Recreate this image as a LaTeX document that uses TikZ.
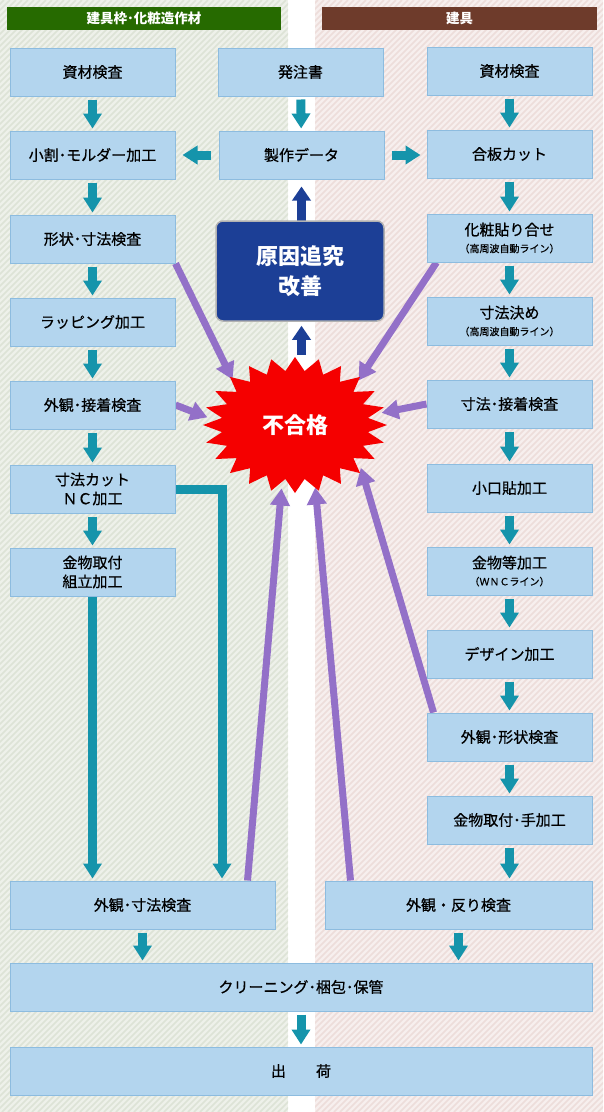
\documentclass[tikz,border=0pt]{standalone}
\usepackage{fontspec}
\setmainfont{Noto Sans CJK JP}
\newfontfamily\boxfont{Noto Sans CJK JP}[FakeBold=0.7]
\usetikzlibrary{arrows.meta,shapes.geometric}
\pgfdeclarelayer{stripes}
\pgfdeclarelayer{background}
\pgfsetlayers{stripes,background,main}
\definecolor{boxblue}{HTML}{B3D5EE}
\definecolor{boxline}{HTML}{8DBCDF}
\definecolor{flowteal}{HTML}{1594AB}
\definecolor{causeblue}{HTML}{1C3F96}
\definecolor{ngpurple}{HTML}{9370C8}
\definecolor{leftgreen}{HTML}{266A00}
\definecolor{rightbrown}{HTML}{6E3B2B}
\definecolor{leftbg}{HTML}{EEF1EA}
\definecolor{leftstripe}{HTML}{DDE3D6}
\definecolor{rightbg}{HTML}{F7EFEE}
\definecolor{rightstripe}{HTML}{EDDDDA}
\definecolor{burstred}{HTML}{F50000}
\newcommand\subl{\fontsize{10}{12}\selectfont}
\tikzstyle{stepbox}=[draw=boxline,fill=boxblue,line width=1pt,minimum width=165pt,minimum height=48pt,inner sep=0pt,align=center,font=\boxfont\fontsize{15}{19}\selectfont]
\tikzstyle{header} = [text=white,minimum height=23pt,inner sep=0pt,font=\bfseries\fontsize{13.5}{15}\selectfont]
\tikzstyle{cause box} = [draw=gray!60,fill=causeblue,line width=1.5pt,rounded corners=7pt,minimum width=168pt,minimum height=100pt,align=center,text=white,font=\bfseries\fontsize{22}{30}\selectfont]
\tikzstyle{burst} = [ellipse,minimum width=176pt,minimum height=128pt,inner sep=0pt,text=white,font=\bfseries\fontsize{22}{24}\selectfont]
\tikzstyle{flow} = [draw=flowteal,line width=9pt,-{Triangle[width=18pt,length=15pt]}]
\tikzstyle{back} = [draw=causeblue,line width=9pt,-{Triangle[width=18pt,length=14pt]}]
\tikzstyle{reject} = [draw=ngpurple,line width=7pt,-{Triangle[width=19pt,length=17pt]}]

\begin{document}
\begin{tikzpicture}[x=1pt,y=-1pt]
	\useasboundingbox (0,0) rectangle (603,1112);
	% Striped panels behind the two columns
	\begin{pgfonlayer}{stripes}
		\fill[leftbg] (0,0) rectangle (288,1112);
		\fill[rightbg] (315,0) rectangle (603,1112);
		\begin{scope}
			\clip (0,0) rectangle (288,1112);
			\foreach \i in {-1120,-1114,...,290}
			\draw[leftstripe,line width=1.6pt] (\i,1112) -- ++(1112,-1112);
		\end{scope}
		\begin{scope}
			\clip (315,0) rectangle (603,1112);
			\foreach \i in {-800,-794,...,606}
			\draw[rightstripe,line width=1.6pt] (\i,1112) -- ++(1112,-1112);
		\end{scope}
	\end{pgfonlayer}

	\node[header,fill=leftgreen,minimum width=274pt] (hl) at (144,18.5) {建具枠･化粧造作材};
	\node[header,fill=rightbrown,minimum width=275pt] (hr) at (459.5,18.5) {建具};

	% The red burst first, so the boxes sit on top
	\fill[burstred] (387,425) \foreach \k in {1,...,47} {-- ({295+92*(1-0.2*mod(\k,2))*cos(\k*7.5)},{425+68*(1-0.2*mod(\k,2))*sin(\k*7.5)})} -- cycle;
	\node[burst] (ng) at (295,425) {不合格};

	% Left column
	\foreach \pos/\name/\text in {{(92.5,72)/l1/資材検査}, {(92.5,155)/l2/小割･モルダー加工}, {(92.5,239)/l3/形状･寸法検査}, {(92.5,322)/l4/ラッピング加工}, {(92.5,405)/l5/外観･接着検査}, {(92.5,489)/l6/寸法カット\\ＮＣ加工}, {(92.5,572)/l7/金物取付\\組立加工}}
	\node[stepbox] (\name) at \pos {\text};

	% Right column
	\foreach \pos/\name/\text in {{(509.5,71)/r1/資材検査}, {(509.5,154)/r2/合板カット}, {(509.5,238)/r3/化粧貼り合せ\\[-2pt]{\subl （高周波自動ライン）}}, {(509.5,321)/r4/寸法決め\\[-2pt]{\subl （高周波自動ライン）}}, {(509.5,404)/r5/寸法･接着検査}, {(509.5,488)/r6/小口貼加工}, {(509.5,571)/r7/金物等加工\\[-2pt]{\subl （ＷＮＣライン）}}, {(509.5,654)/r8/デザイン加工}, {(509.5,737)/r9/外観･形状検査}, {(509.5,820)/r10/金物取付･手加工}}
	\node[stepbox] (\name) at \pos {\text};

	% Middle and bottom
	\node[stepbox] (c1) at (300.5,72) {発注書};
	\node[stepbox] (c2) at (301.5,155) {製作データ};
	\node[cause box] (cause) at (300,271) {原因追究\\改善};
	\node[stepbox,minimum width=265pt] (lb) at (142.5,905) {外観･寸法検査};
	\node[stepbox,minimum width=267pt] (rb) at (458.5,905) {外観・反り検査};
	\node[stepbox,minimum width=582pt] (pack) at (301,987) {クリーニング･梱包･保管};
	\node[stepbox,minimum width=582pt] (ship) at (301,1071) {出　　荷};

	\begin{pgfonlayer}{background}
		% Flow down the columns
		\foreach \source/\dest in {l1/l2, l2/l3, l3/l4, l4/l5, l5/l6, l6/l7, c1/c2, r1/r2, r2/r3, r3/r4, r4/r5, r5/r6, r6/r7, r7/r8, r8/r9, r9/r10, pack/ship}
		\path[flow,shorten <=3pt,shorten >=2pt] (\source) -- (\dest);
		\path[flow,shorten <=3pt,shorten >=2pt] (r10.south) -- (r10.south |- rb.north);
		\path[flow,shorten <=3pt,shorten >=2pt] (lb.south) -- (lb.south |- pack.north);
		\path[flow,shorten <=3pt,shorten >=2pt] (rb.south) -- (rb.south |- pack.north);
		\path[flow,shorten >=2pt] (l7.south) -- (l7.south |- lb.north);
		\path[flow,shorten >=2pt] (l6.east) -| ([xshift=79.5pt]lb.north);
		\path[flow,shorten <=8pt,shorten >=7pt] (c2.west) -- (l2.east);
		\path[flow,shorten <=7pt,shorten >=6pt] (c2.east) -- (c2.east -| r2.west);

		% Back to the cause box
		\path[back,shorten <=-4pt,shorten >=7pt] (cause.north -| c2.south) -- (c2.south);
		\path[back,shorten <=6pt,shorten >=4pt] (ng.north -| c2.south) -- (cause.south -| c2.south);

		% Rejects into the burst
		\path[reject] (l3.south east) -- (ng.144);
		\path[reject] ([xshift=10pt]r3.south west) -- (ng.35);
		\path[reject] (l5.east) -- (ng.175);
		\path[reject] (r5.west) -- (ng.8);
		\path[reject] ([xshift=-28pt]lb.north east) -- (ng.258);
		\path[reject] ([xshift=26pt]rb.north west) -- (ng.288);
		\path[reject] ([xshift=7pt]r9.north west) -- (ng.327);
	\end{pgfonlayer}
\end{tikzpicture}
\end{document}
